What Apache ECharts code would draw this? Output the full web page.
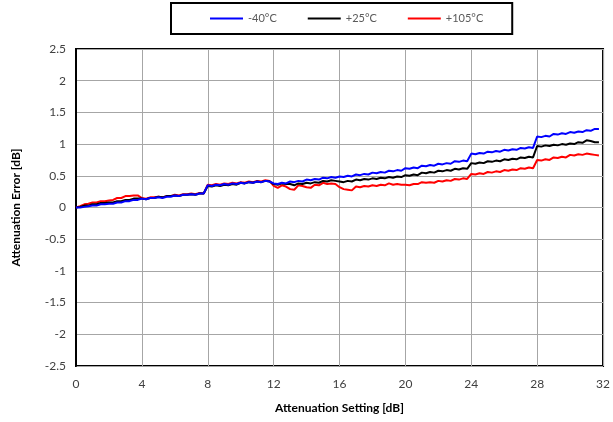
<!DOCTYPE html>
<html>
<head>
<meta charset="utf-8">
<script src="https://cdn.jsdelivr.net/npm/echarts@6/dist/echarts.min.js"></script>
<style>html,body{margin:0;padding:0;background:#fff;}#c{width:613px;height:422px;}</style>
</head>
<body>
<div id="c"></div>
<script>
// Attenuation settings 0 .. 31.75 dB in 0.25 dB steps
const settings = [
 0,0.25,0.5,0.75,1,1.25,1.5,1.75,2,2.25,2.5,2.75,3,3.25,3.5,3.75,
 4,4.25,4.5,4.75,5,5.25,5.5,5.75,6,6.25,6.5,6.75,7,7.25,7.5,7.75,
 8,8.25,8.5,8.75,9,9.25,9.5,9.75,10,10.25,10.5,10.75,11,11.25,11.5,11.75,
 12,12.25,12.5,12.75,13,13.25,13.5,13.75,14,14.25,14.5,14.75,15,15.25,15.5,15.75,
 16,16.25,16.5,16.75,17,17.25,17.5,17.75,18,18.25,18.5,18.75,19,19.25,19.5,19.75,
 20,20.25,20.5,20.75,21,21.25,21.5,21.75,22,22.25,22.5,22.75,23,23.25,23.5,23.75,
 24,24.25,24.5,24.75,25,25.25,25.5,25.75,26,26.25,26.5,26.75,27,27.25,27.5,27.75,
 28,28.25,28.5,28.75,29,29.25,29.5,29.75,30,30.25,30.5,30.75,31,31.25,31.5,31.75
];
const errMinus40 = [
 0.00,0.00,0.01,0.02, 0.03,0.03,0.05,0.05, 0.06,0.06,0.08,0.08, 0.10,0.10,0.12,0.12,
 0.14,0.13,0.15,0.15, 0.16,0.15,0.17,0.17, 0.19,0.18,0.20,0.20, 0.21,0.20,0.22,0.22,
 0.35,0.34,0.36,0.35, 0.37,0.36,0.38,0.37, 0.39,0.38,0.40,0.39, 0.41,0.40,0.42,0.41,
 0.38,0.37,0.39,0.38, 0.41,0.40,0.42,0.41, 0.44,0.43,0.45,0.44, 0.47,0.46,0.48,0.47,
 0.49,0.48,0.50,0.49, 0.52,0.51,0.53,0.52, 0.55,0.54,0.56,0.55, 0.58,0.57,0.59,0.58,
 0.62,0.61,0.63,0.62, 0.66,0.65,0.67,0.66, 0.69,0.68,0.70,0.69, 0.73,0.72,0.74,0.73,
 0.85,0.84,0.86,0.85, 0.88,0.87,0.89,0.88, 0.91,0.90,0.92,0.91, 0.94,0.93,0.95,0.94,
 1.12,1.11,1.13,1.12, 1.16,1.15,1.17,1.16, 1.19,1.18,1.20,1.19, 1.22,1.21,1.24,1.24
];
const errPlus25 = [
 0.00,0.01,0.03,0.03, 0.05,0.05,0.07,0.07, 0.08,0.08,0.10,0.10, 0.12,0.12,0.14,0.14,
 0.14,0.13,0.15,0.15, 0.17,0.16,0.18,0.18, 0.19,0.18,0.20,0.20, 0.21,0.20,0.22,0.22,
 0.34,0.33,0.35,0.34, 0.36,0.35,0.37,0.36, 0.39,0.38,0.40,0.39, 0.41,0.40,0.42,0.41,
 0.37,0.36,0.38,0.37, 0.37,0.35,0.38,0.37, 0.39,0.38,0.40,0.39, 0.42,0.41,0.43,0.42,
 0.41,0.40,0.42,0.41, 0.44,0.43,0.45,0.44, 0.46,0.45,0.47,0.46, 0.48,0.47,0.49,0.48,
 0.51,0.50,0.52,0.51, 0.55,0.54,0.56,0.55, 0.58,0.57,0.59,0.58, 0.61,0.60,0.62,0.61,
 0.70,0.69,0.71,0.70, 0.73,0.72,0.74,0.73, 0.76,0.75,0.77,0.76, 0.79,0.78,0.80,0.79,
 0.97,0.96,0.98,0.97, 0.99,0.98,1.00,0.99, 1.01,1.00,1.03,1.02, 1.06,1.05,1.03,1.03
];
const errPlus105 = [
 0.00,0.02,0.05,0.06, 0.08,0.08,0.10,0.10, 0.11,0.12,0.15,0.15, 0.18,0.18,0.19,0.19,
 0.15,0.14,0.16,0.16, 0.17,0.16,0.18,0.18, 0.20,0.19,0.21,0.21, 0.22,0.21,0.23,0.22,
 0.36,0.35,0.37,0.36, 0.38,0.37,0.39,0.38, 0.40,0.39,0.41,0.40, 0.42,0.41,0.43,0.42,
 0.34,0.31,0.35,0.33, 0.29,0.28,0.35,0.34, 0.32,0.31,0.36,0.35, 0.39,0.37,0.38,0.37,
 0.32,0.29,0.28,0.27, 0.33,0.32,0.34,0.33, 0.35,0.34,0.36,0.35, 0.38,0.36,0.37,0.36,
 0.36,0.35,0.37,0.37, 0.40,0.39,0.40,0.39, 0.42,0.41,0.43,0.42, 0.45,0.44,0.46,0.45,
 0.53,0.52,0.54,0.53, 0.56,0.55,0.57,0.56, 0.59,0.58,0.60,0.59, 0.62,0.61,0.63,0.62,
 0.75,0.74,0.76,0.75, 0.79,0.78,0.80,0.79, 0.83,0.82,0.84,0.83, 0.85,0.84,0.83,0.82
];
const seriesNames = ['-40°C', '+25°C', '+105°C'];
const seriesColors = ['#0000ff', '#000000', '#ff0000'];
const seriesValues = [errMinus40, errPlus25, errPlus105];

const FONT = 'Lato';
const chart = echarts.init(document.getElementById('c'), null, {renderer: 'canvas'});
const pair = (vals) => settings.map((x, i) => [x, vals[i]]);

chart.setOption({
  animation: false,
  backgroundColor: '#ffffff',
  textStyle: {fontFamily: FONT},
  legend: {
    left: 171, top: 3,
    padding: [10, 29, 10, 39],
    borderColor: '#000', borderWidth: 2,
    itemWidth: 33, itemHeight: 2, itemGap: 31,
    icon: 'rect',
    textStyle: {color: '#595959', fontSize: 11, fontFamily: FONT},
    data: seriesNames
  },
  grid: {left: 76, right: 8, top: 49, bottom: 56, show: true, borderColor: '#000', borderWidth: 2, containLabel: false},
  xAxis: {
    type: 'value', min: 0, max: 32, interval: 4,
    name: 'Attenuation Setting [dB]', nameLocation: 'middle', nameGap: 36,
    nameTextStyle: {fontWeight: 'bold', fontSize: 12, color: '#000', fontFamily: FONT},
    axisLine: {show: false},
    axisTick: {show: false},
    axisLabel: {color: '#404040', fontSize: 12, margin: 12, fontFamily: FONT},
    splitLine: {show: true, lineStyle: {color: '#a6a6a6', width: 1}}
  },
  yAxis: {
    type: 'value', min: -2.5, max: 2.5, interval: 0.5,
    name: 'Attenuation Error [dB]', nameLocation: 'middle', nameGap: 54, nameRotate: 90,
    nameTextStyle: {fontWeight: 'bold', fontSize: 12, color: '#000', fontFamily: FONT},
    axisLine: {show: true, onZero: false, lineStyle: {color: '#000', width: 2}},
    axisTick: {show: false},
    axisLabel: {color: '#404040', fontSize: 12, margin: 10, fontFamily: FONT},
    splitLine: {show: true, lineStyle: {color: '#a6a6a6', width: 1}}
  },
  series: seriesNames.map((n, k) => ({
    name: n, type: 'line', data: pair(seriesValues[k]),
    showSymbol: false, symbol: 'none', smooth: false,
    lineStyle: {color: seriesColors[k], width: 2},
    itemStyle: {color: seriesColors[k]},
    z: 3 - k
  }))
});
</script>
</body>
</html>
